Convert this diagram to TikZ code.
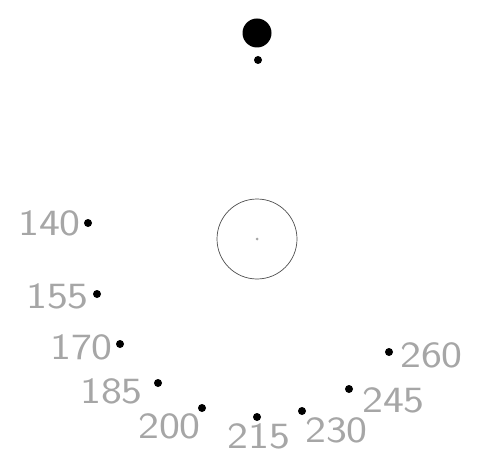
\documentclass[tikz,border=0pt]{standalone}
\begin{document}
\begin{tikzpicture}[x=1pt, y=-1pt]
        \tikzset{
            pt/.style={circle,fill=black,inner sep=0pt, minimum size=8pt},
            big/.style={circle,fill=black,inner sep=0pt, minimum size=29pt},
            lab/.style={inner sep=0pt, text=black!35, font=\sffamily\fontsize{37}{37}\selectfont, xscale=1.2, transform shape}
        }
        \useasboundingbox (0,0) rectangle (479,457);

        \node[big] (S) at (257,33) {};
        \node[pt]  (s) at (258,60) {};

        \node[circle,draw=black!70,line width=0.7pt,inner sep=0pt,minimum size=80pt] (C) at (257,239) {};
        \node[circle,fill=black!35,inner sep=0pt,minimum size=3pt] (c) at (C.center) {};

        \node[pt] (d140) at (88,223) {};
        \node[pt] (d155) at (97,294) {};
        \node[pt] (d170) at (120,344) {};
        \node[pt] (d185) at (158,383) {};
        \node[pt] (d200) at (202,408) {};
        \node[pt] (d215) at (257,417) {};
        \node[pt] (d230) at (302,411) {};
        \node[pt] (d245) at (349,389) {};
        \node[pt] (d260) at (389,352) {};

        \node[lab,anchor=east] (l140) at (81,223) {140};
        \node[lab,anchor=east] (l155) at (89,296) {155};
        \node[lab,anchor=east] (l170) at (113,347) {170};
        \node[lab,anchor=east] (l185) at (143,391) {185};
        \node[lab,anchor=east] (l200) at (201,426) {200};
        \node[lab] (l215) at (259,436) {215};
        \node[lab,anchor=west] (l230) at (305,430) {230};
        \node[lab,anchor=west] (l245) at (362,400) {245};
        \node[lab,anchor=west] (l260) at (400,355) {260};
        \end{tikzpicture}
\end{document}
